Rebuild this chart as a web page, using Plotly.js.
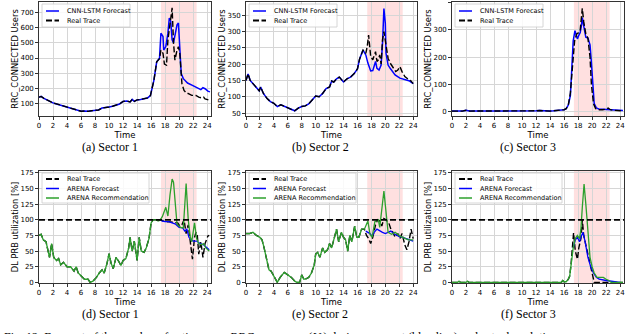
<!DOCTYPE html>
<html><head><meta charset="utf-8">
<script src="https://cdn.plot.ly/plotly-3.0.1.min.js"></script>
<style>html,body{margin:0;padding:0;background:#fff;overflow:hidden}#chart{width:640px;height:334px}</style>
</head><body><div id="chart"></div>
<script>
// ---------------- DATA ----------------
const eventStart = 17.4, eventEnd = 22.5;
const capacity = 100;

// Sector 1 - RRC_CONNECTED users
const timeA = [0,0.3,0.7,1,1.5,2,2.5,3,3.5,4,4.5,5,5.5,6,6.5,7,7.5,8,8.5,9,9.5,10,10.5,11,11.5,12,12.5,13,13.3,13.6,14,14.5,15,15.5,15.9,16.4,16.8,17.05,17.2,17.4,17.7,17.9,18.2,18.4,18.6,18.8,19.0,19.2,19.4,19.7,19.9,20.1,20.4,20.7,21.0,21.4,21.8,22.4,22.8,23.2,23.5,23.7,24.0,24.4];
const realA = [140,145,132,125,112,102,95,88,80,72,66,60,52,47,48,46,50,52,55,68,70,75,80,85,95,112,115,108,125,112,122,125,130,135,150,252,375,386,395,453,431,360,353,520,600,655,733,500,386,453,475,430,230,185,170,162,152,151,140,135,140,129,125,118];
const fcTimeA = [17.2,17.4,17.7,17.8,18.1,18.4,18.6,18.8,19.0,19.2,19.4,19.7,19.9,20.1,20.3,20.6,21.2,21.9,22.6,23.1,23.4,23.7,24.1,24.4];
const fcA = [398,565,543,453,476,565,666,644,521,500,543,620,633,430,297,263,234,218,203,190,203,196,180,175];

// Sector 2
const timeB = [0,0.3,0.6,1,1.5,1.9,2.1,2.5,3,3.5,4,4.5,5,5.5,6,6.5,7,7.5,8,8.5,9,9.5,10,10.5,11,11.5,12,12.3,12.6,13,13.4,14,14.5,15,15.5,16,16.3,16.8,17.2,17.4,17.6,17.9,18.2,18.6,18.8,19.0,19.2,19.4,19.6,19.8,20.1,20.4,20.7,21.2,21.5,21.8,22.1,22.4,22.8,23.2,23.6,24.0];
const realB = [150,170,150,140,125,118,130,110,95,85,80,70,75,70,65,62,57,65,70,72,78,90,102,100,110,125,130,148,145,155,160,145,155,160,170,185,215,243,233,253,289,223,213,238,208,213,228,200,274,299,263,218,203,187,177,182,192,177,162,155,150,140];
const fcTimeB = [17.2,17.5,17.9,18.2,18.6,18.8,19.1,19.4,19.6,19.8,20.0,20.1,20.4,20.7,21.4,22.1,22.8,23.5,24.0];
const fcB = [228,203,179,180,208,187,182,197,264,370,325,233,197,187,167,157,152,148,140];

// Sector 3
const timeC = [0,0.5,1,1.5,2,2.5,3,4,5,6,7,8,9,10,11,12,12.5,13,13.5,14,14.5,15,15.5,16,16.3,16.6,16.9,17.1,17.3,17.5,17.8,18.1,18.3,18.45,18.6,18.8,19.1,19.4,19.7,19.9,20.2,20.5,21,21.5,22,22.3,22.6,23,23.5,24,24.4];
const realC = [3,4,3,3,6,3,3,2,2,2,2,2,3,3,3,4,5,4,4,3,4,5,6,8,12,25,70,130,200,260,285,290,300,340,379,330,285,270,200,100,30,12,8,8,10,14,8,6,5,5,4];
const fcTimeC = [16.9,17.1,17.3,17.55,17.9,18.1,18.3,18.5,18.6,18.8,19.1,19.4,19.7,19.9,20.1,20.3,20.6,21,21.5,22,22.5,23,23.5,24,24.4];
const fcC = [60,150,260,297,267,280,290,320,345,315,273,270,245,180,80,30,15,10,10,9,8,7,6,6,5];

// Sector 1 - DL PRB utilization [%]
const timeD = [0,0.3,0.6,1,1.3,1.5,1.8,2.1,2.5,2.8,3.1,3.5,4,4.5,5,5.3,5.6,6,6.5,7,7.3,7.7,8.2,8.6,9,9.3,9.7,10,10.3,10.6,11,11.3,11.7,12,12.4,12.8,13,13.3,13.6,14,14.3,14.6,15,15.3,15.7,16,16.3,16.7,17,17.3,17.6,18.1,18.4,18.7,19.0,19.2,19.5,19.7,20.2,20.6,21.0,21.3,21.6,21.8,22.2,22.5,22.8,23.2,23.5,23.8,24.3];
const recD = [75,77,68,65,50,40,62,40,35,38,28,32,25,25,18,25,15,10,5,5,0,2,8,15,20,15,30,46,30,22,40,35,27,35,38,55,72,50,66,35,72,50,48,55,70,95,100,100,98,100,105,120,106,140,165,160,119,93,88,87,158,100,72,65,95,70,62,60,62,55,50];
const fcTimeD = [17.3,17.6,18,18.5,19,19.5,20,20.5,20.8,21.1,21.4,21.7,22,22.5,23,23.5,24,24.3];
const fcD = [100,98,97,97,95,93,88,87,82,85,72,68,66,66,62,60,55,52];
const rtTimeD = [17.6,18,18.5,19,19.5,19.8,20.1,20.4,20.7,21,21.3,21.6,21.9,22.2,22.4,22.6,22.8,23.1,23.4,23.7,24.1,24.3];
const rtD = [99,97,97,96,96,95,90,92,100,78,92,60,37,72,80,75,45,65,40,62,74,75];

// Sector 2 - DL PRB utilization [%]
const timeE = [0,0.5,1,1.5,2,2.3,2.6,3,3.3,3.6,4,4.3,4.5,4.9,5.2,5.5,6,6.5,7,7.3,7.7,8,8.3,8.7,9,9.4,9.8,10,10.3,10.6,11,11.3,11.7,12,12.3,12.7,13,13.3,13.7,14,14.3,14.6,14.9,15.2,15.6,15.9,16.2,16.6,17,17.5,17.8,18.1,18.5,19,19.2,19.8,20.1,20.4,20.9,21.4,22.1,22.6,23.3,24];
const recE = [78,78,80,75,72,68,55,35,20,18,10,5,0,8,12,16,12,8,2,0,0,12,5,6,8,15,28,45,48,40,55,48,52,62,55,70,85,65,80,72,68,50,75,65,90,72,72,85,85,98,77,72,97,100,88,146,106,80,77,80,74,71,68,68];
const fcTimeE = [17.2,17.5,17.8,18.1,18.4,18.8,19.2,19.6,20,20.4,20.8,21.2,21.6,22,22.5,23,23.5,24];
const fcE = [82,80,78,74,80,85,82,80,78,80,82,78,75,73,72,70,68,66];
const rtTimeE = [17.3,17.6,17.9,18.2,18.6,18.9,19.2,19.5,19.8,20.1,20.5,20.8,21.1,21.4,21.8,22.1,22.4,22.8,23.1,23.4,23.7,24];
const rtE = [75,70,62,72,92,100,98,90,102,100,95,85,80,72,78,70,78,60,52,65,85,70];

// Sector 3 - DL PRB utilization [%]
const timeF = [0,0.8,1,1.2,2,2.2,2.4,3,4,5,6,7,8,9,10,11,11.8,12,12.2,13,14,15,15.6,15.8,16,16.3,16.6,16.8,17,17.3,17.6,17.9,18.2,18.4,18.6,18.85,19.1,19.4,19.7,20,20.3,20.7,21.2,21.6,22,22.4,22.7,23,24,24.4];
const recF = [0,0,2,0,0,2,0,0,0,0,0,0,0,0,0,0,0,1,0,0,0,0,0,3,1,1,5,10,30,55,70,75,70,85,120,157,125,75,40,25,15,8,8,8,5,3,0,0,0,0];
const fcTimeF = [17.3,17.6,17.9,18.2,18.4,18.7,19,19.4,19.8,20.2,20.6,21,22,23,24];
const fcF = [55,68,72,65,72,80,65,40,25,15,8,5,3,1,0];
const rtTimeF = [17.0,17.35,17.6,17.9,18.1,18.4,18.6,18.8,19.1,19.4,19.8,20.1,20.3,21,22,23,24,24.4];
const rtF = [30,79,50,37,55,70,100,75,60,40,20,5,0,0,0,0,0,0];

const xTicks = [0,2,4,6,8,10,12,14,16,18,20,22,24];
const yTicksA = [100,200,300,400,500,600,700];
const yTicksB = [50,100,150,200,250,300,350];
const yTicksC = [0,100,200,300,400];
const yTicksPRB = [0,25,50,75,100,125,150,175];

const topNames = ['CNN-LSTM Forecast','Real Trace'];
const botNames = ['Real Trace','ARENA Forecast','ARENA Recommendation'];
const captions = ['(a) Sector 1','(b) Sector 2','(c) Sector 3','(d) Sector 1','(e) Sector 2','(f) Sector 3'];

// ---------------- HELPERS ----------------
const W = 640, H = 334;
const PX = v => v / W, PY = v => 1 - v / H;
const FONT = 'DejaVu Sans, Verdana, sans-serif';
const SERIF = 'Liberation Serif, Times New Roman, serif';
const BLUE = '#0000ff', GREEN = '#2ca02c', BLACK = '#000000';
const DASH = '6px,2.5px';

// join pre-event part of one series with the event part of another
function joinSeries(t0, v0, t1, v1) {
  const xs = [], ys = [];
  for (let i = 0; i < t0.length; i++) if (t0[i] < t1[0]) { xs.push(t0[i]); ys.push(v0[i]); }
  return { x: xs.concat(t1), y: ys.concat(v1) };
}

const cols = [{l:39,r:211},{l:246,r:417},{l:452,r:624}];
const rows = [{t:2,b:116},{t:171,b:283}];

const layout = {
  width: W, height: H,
  margin: {l:0,r:0,t:0,b:0},
  paper_bgcolor: '#fff', plot_bgcolor: '#fff',
  showlegend: false,
  font: {family: FONT, size: 7, color: '#000'},
  shapes: [], annotations: []
};

const yRanges = [[15,772],[41,390],[-15,402],[-1,178],[-1,178],[-1,178]];
const yTicks = [yTicksA, yTicksB, yTicksC, yTicksPRB, yTicksPRB, yTicksPRB];

for (let k = 0; k < 6; k++) {
  const c = cols[k % 3], r = rows[Math.floor(k / 3)];
  const sfx = k === 0 ? '' : String(k + 1);
  const top = k < 3;
  layout['xaxis' + sfx] = {
    domain: [PX(c.l), PX(c.r)], anchor: 'y' + sfx, range: [0, 24.55],
    tickvals: xTicks, ticktext: xTicks.map(String),
    showgrid: true, gridcolor: '#d6d6d6', gridwidth: 1,
    showline: true, linecolor: '#000', linewidth: 0.8, mirror: true,
    ticks: 'outside', ticklen: 3, tickwidth: 0.8, tickcolor: '#000',
    tickfont: {size: 7, family: FONT}, zeroline: false, automargin: false,
    title: {text: 'Time', font: {size: 8.5, family: FONT}, standoff: 0}
  };
  layout['yaxis' + sfx] = {
    domain: [PY(r.b), PY(r.t)], anchor: 'x' + sfx, range: yRanges[k],
    tickvals: yTicks[k], ticktext: yTicks[k].map(String),
    showgrid: true, gridcolor: '#d6d6d6', gridwidth: 1,
    showline: true, linecolor: '#000', linewidth: 0.8, mirror: true,
    ticks: 'outside', ticklen: 3, tickwidth: 0.8, tickcolor: '#000',
    tickfont: {size: 7, family: FONT}, zeroline: false, automargin: false,
    title: {text: top ? 'RRC_CONNECTED Users' : 'DL PRB utilization [%]', font: {size: 8.3, family: FONT}, standoff: 0}
  };
  // event span
  layout.shapes.push({type: 'rect', xref: 'x' + sfx, yref: 'y' + sfx + ' domain', x0: eventStart, x1: eventEnd, y0: 0, y1: 1,
    fillcolor: 'rgba(255,0,0,0.12)', line: {width: 0}, layer: 'below'});
  if (!top) {
    layout.shapes.push({type: 'line', xref: 'x' + sfx + ' domain', yref: 'y' + sfx, x0: 0, x1: 1, y0: capacity, y1: capacity,
      line: {color: '#000', width: 1.8, dash: '6px,3px'}, layer: 'above'});
  }
  // sub caption
  const capX = [110, 320, 528][k % 3];
  const capY = top ? 147.5 : 314;
  layout.annotations.push({xref: 'paper', yref: 'paper', x: PX(capX), y: PY(capY), xanchor: 'center', yanchor: 'middle',
    text: captions[k], showarrow: false, font: {family: SERIF, size: 12, color: '#000'}});
  // legend box
  const names = top ? topNames : botNames;
  const styles = top ? [{c: BLUE, d: 'solid'}, {c: BLACK, d: DASH}]
                     : [{c: BLACK, d: DASH}, {c: BLUE, d: 'solid'}, {c: GREEN, d: 'solid'}];
  const boxW = top ? 88 : 107, boxH = top ? 23 : 30;
  const bx = c.l + 3, by = r.t + 2;
  layout.shapes.push({type: 'rect', xref: 'paper', yref: 'paper', x0: PX(bx), x1: PX(bx + boxW), y0: PY(by + boxH), y1: PY(by),
    fillcolor: 'rgba(255,255,255,0.85)', line: {color: '#cccccc', width: 0.8}, layer: 'above'});
  names.forEach((n, i) => {
    const ly = by + (top ? 7 : 6) + i * 9.5;
    layout.shapes.push({type: 'line', xref: 'paper', yref: 'paper', x0: PX(bx + 4), x1: PX(bx + 17), y0: PY(ly), y1: PY(ly),
      line: {color: styles[i].c, width: styles[i].d === 'solid' ? 1.5 : 1.8, dash: styles[i].d}, layer: 'above'});
    layout.annotations.push({xref: 'paper', yref: 'paper', x: PX(bx + 23), y: PY(ly), xanchor: 'left', yanchor: 'middle',
      text: n, showarrow: false, font: {family: FONT, size: 6.5, color: '#000'}});
  });
}

layout.annotations.push({xref: 'paper', yref: 'paper', x: PX(2), y: PY(338), xanchor: 'left', yanchor: 'middle',
  text: 'Fig. 12: Forecast of the number of active users RRC<sub>CONNECTED</sub> (<i>U<sub>t</sub></i>) during an event (blue line) and actual evolution',
  showarrow: false, font: {family: SERIF, size: 12, color: '#000'}});

// ---------------- TRACES ----------------
const traces = [];
function line(x, y, sfx, color, width, dash) {
  traces.push({type: 'scatter', mode: 'lines', x: x, y: y, xaxis: 'x' + sfx, yaxis: 'y' + sfx,
    line: {color: color, width: width, dash: dash}, hoverinfo: 'skip', cliponaxis: true});
}
// top row: forecast under the real trace
const tops = [[timeA, realA, fcTimeA, fcA, ''], [timeB, realB, fcTimeB, fcB, '2'], [timeC, realC, fcTimeC, fcC, '3']];
tops.forEach(([t, v, ft, fv, s]) => {
  const f = joinSeries(t, v, ft, fv);
  line(f.x, f.y, s, BLUE, 1.5, 'solid');
  line(t, v, s, BLACK, 1.4, DASH);
});
// bottom row: real, forecast, recommendation
const bots = [[timeD, recD, rtTimeD, rtD, fcTimeD, fcD, '4'], [timeE, recE, rtTimeE, rtE, fcTimeE, fcE, '5'], [timeF, recF, rtTimeF, rtF, fcTimeF, fcF, '6']];
bots.forEach(([t, rec, rt, rv, ft, fv, s]) => {
  const real = joinSeries(t, rec, rt, rv);
  line(real.x, real.y, s, BLACK, 1.4, DASH);
  line(ft, fv, s, BLUE, 1.3, 'solid');
  line(t, rec, s, GREEN, 1.3, 'solid');
});

Plotly.newPlot('chart', traces, layout, {staticPlot: true, displayModeBar: false});
</script></body></html>
